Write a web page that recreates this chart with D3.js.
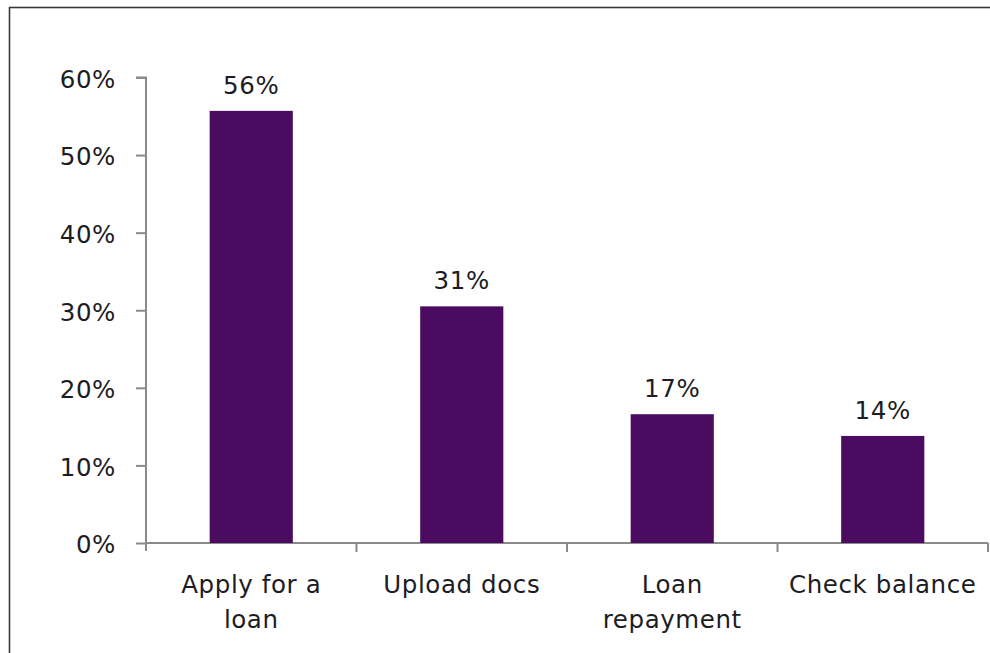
<!DOCTYPE html>
<html>
<head>
<meta charset="utf-8">
<script src="https://cdn.jsdelivr.net/npm/d3@7"></script>
<style>
  html, body { margin: 0; padding: 0; background: #fff; }
  svg { display: block; }
</style>
</head>
<body>
<div id="chart"></div>
<script>
// chart data
const categories = [["Apply for a", "loan"], ["Upload docs"], ["Loan", "repayment"], ["Check balance"]];
const values = [55.7, 30.5, 16.6, 13.8];
const valueLabels = ["56%", "31%", "17%", "14%"];
const yTicks = [0, 10, 20, 30, 40, 50, 60];

const width = 990;
const height = 653;
const margin = { top: 77.5, right: 2, bottom: 110, left: 146 };
const innerW = width - margin.left - margin.right;
const innerH = height - margin.top - margin.bottom;

const FONT = "'DejaVu Sans', sans-serif";
const FSIZE = 24.5;
const LS = "0.6px";
const TEXT = "#1c1c24";
const AXIS = "#8a8a8a";
const BAR = "#4a0b60";

const svg = d3.select("#chart").append("svg")
  .attr("width", width)
  .attr("height", height);

// outer frame (runs off the right and bottom edges)
svg.append("rect")
  .attr("x", 9.5)
  .attr("y", 7.5)
  .attr("width", width + 20)
  .attr("height", height + 20)
  .attr("fill", "none")
  .attr("stroke", "#3a3a3a")
  .attr("stroke-width", 1.6);

const g = svg.append("g")
  .attr("transform", `translate(${margin.left},${margin.top})`);

const x = d3.scaleBand()
  .domain(d3.range(categories.length))
  .range([0, innerW])
  .paddingInner(0.605)
  .paddingOuter(0.3025);

const y = d3.scaleLinear()
  .domain([0, 60])
  .range([innerH, 0]);

// y axis
const yAxis = g.append("g")
  .call(d3.axisLeft(y).tickValues(yTicks).tickSize(10).tickPadding(20)
    .tickFormat(d => d + "%"));
yAxis.select(".domain").attr("stroke", AXIS).attr("stroke-width", 2)
  .attr("d", `M0,${innerH + 8}V0H-10`);
yAxis.selectAll(".tick line").attr("stroke", AXIS).attr("stroke-width", 2);
yAxis.selectAll(".tick text")
  .attr("font-family", FONT)
  .attr("font-size", FSIZE)
  .attr("letter-spacing", LS)
  .attr("fill", TEXT)
  .attr("dy", "0.4em");

// x axis (ticks between categories)
const step = x.step();
const xAxis = g.append("g").attr("transform", `translate(0,${innerH})`);
xAxis.append("line")
  .attr("x1", 0).attr("x2", innerW)
  .attr("stroke", AXIS).attr("stroke-width", 2);
xAxis.selectAll("line.sep")
  .data(d3.range(1, categories.length + 1))
  .enter().append("line")
  .attr("class", "sep")
  .attr("x1", d => d * step).attr("x2", d => d * step)
  .attr("y1", 0).attr("y2", 9)
  .attr("stroke", AXIS).attr("stroke-width", 2);

// category labels
const catText = xAxis.selectAll("text.cat")
  .data(categories)
  .enter().append("text")
  .attr("class", "cat")
  .attr("x", (d, i) => x(i) + x.bandwidth() / 2)
  .attr("y", 50)
  .attr("text-anchor", "middle")
  .attr("font-family", FONT)
  .attr("font-size", FSIZE)
  .attr("letter-spacing", LS)
  .attr("fill", TEXT);
catText.selectAll("tspan")
  .data(d => d)
  .enter().append("tspan")
  .attr("x", function () { return d3.select(this.parentNode).attr("x"); })
  .attr("dy", (d, i) => i === 0 ? 0 : 35)
  .text(d => d);

// bars
g.selectAll("rect.bar")
  .data(values)
  .enter().append("rect")
  .attr("class", "bar")
  .attr("x", (d, i) => x(i))
  .attr("y", d => y(d))
  .attr("width", x.bandwidth())
  .attr("height", d => innerH - y(d))
  .attr("fill", BAR);

// value labels
g.selectAll("text.val")
  .data(values)
  .enter().append("text")
  .attr("class", "val")
  .attr("x", (d, i) => x(i) + x.bandwidth() / 2)
  .attr("y", d => y(d) - 17)
  .attr("text-anchor", "middle")
  .attr("font-family", FONT)
  .attr("font-size", FSIZE)
  .attr("letter-spacing", LS)
  .attr("fill", TEXT)
  .text((d, i) => valueLabels[i]);
</script>
</body>
</html>
